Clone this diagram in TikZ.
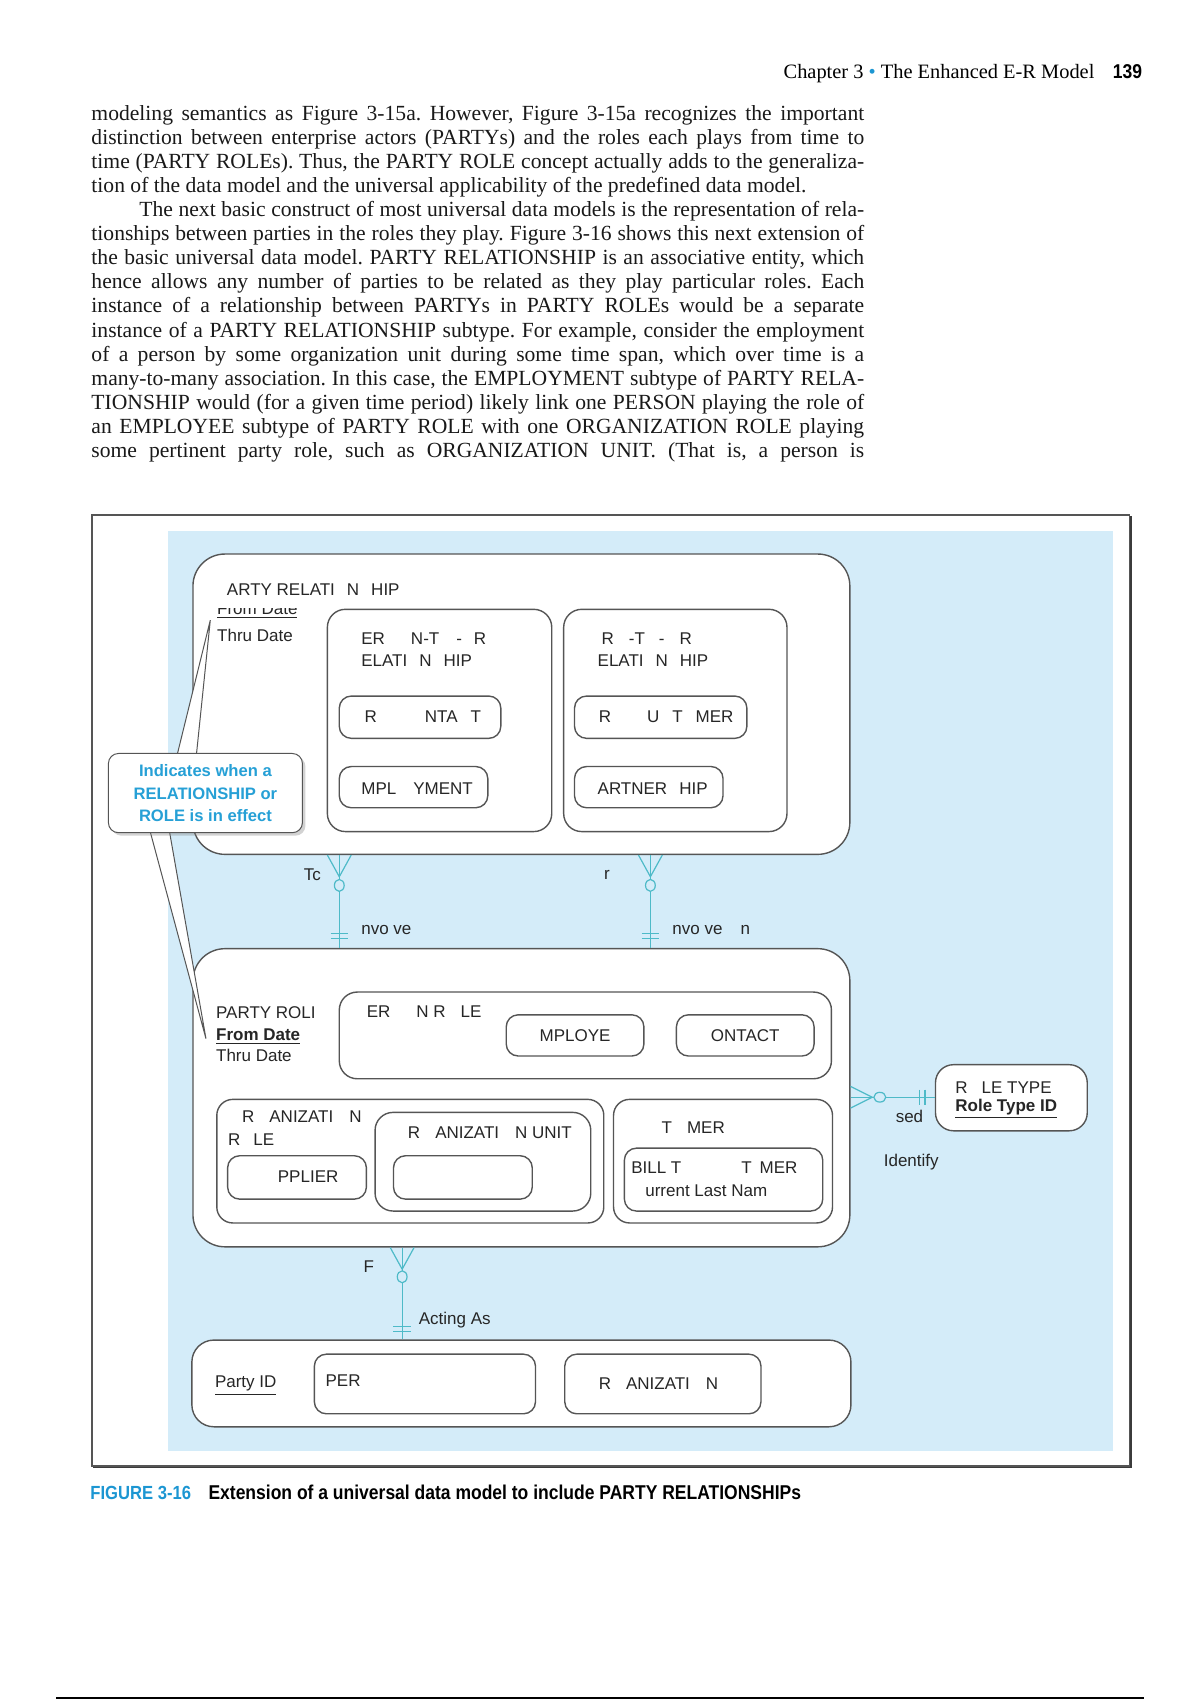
\documentclass[tikz,border=0pt]{standalone}
\usepackage{fontspec}
\setmainfont{Liberation Serif}
\newfontfamily\figfont{Liberation Sans}
\newfontfamily\capfont[FakeStretch=0.875]{Liberation Sans}
\usetikzlibrary{fit,shadows}
\definecolor{bgblue}{RGB}{212,236,249}
\definecolor{crowteal}{RGB}{78,186,200}
\definecolor{noteblue}{RGB}{38,160,214}
\definecolor{capblue}{RGB}{28,150,210}
\definecolor{linegray}{RGB}{85,85,85}
\newcommand{\bodyline}[1]{\makebox[386.4pt][s]{#1}}
\frenchspacing

\begin{document}
\begin{tikzpicture}[x=0.542pt,y=-0.5421pt,
  ent/.style={draw=linegray,fill=white,line width=.7pt,inner sep=0pt,rounded corners=16pt},
  sub/.style={ent,rounded corners=9pt},
  leaf/.style={ent,rounded corners=6pt},
  txt/.style={font=\figfont\fontsize{8.5}{10.8}\selectfont,text=black!85,anchor=west,inner sep=0pt,align=left},
  rel/.style={draw=crowteal,line width=.6pt},
  note/.style={draw=linegray,fill=white,line width=.5pt,rounded corners=5pt,align=center,
    drop shadow={opacity=.35,shadow xshift=1.5pt,shadow yshift=-1.5pt},
    font=\figfont\bfseries\fontsize{8.3}{11.1}\selectfont,text=noteblue}]
\useasboundingbox (0,0) rectangle (1107,1568);

% page head and running text
\node[anchor=base east,inner sep=0pt,font=\capfont\bfseries\fontsize{10}{12}\selectfont] (pgno) at (1054,72) {139};
\node[anchor=base east,inner sep=0pt,font=\fontsize{10.2}{12}\selectfont] (chap) at (1010,72) {Chapter 3 \textcolor{capblue}{\textbullet} The Enhanced E-R Model};
\node[anchor=base west,align=left,inner sep=0pt,text=black!90,font=\fontsize{10.8}{12.05}\selectfont] (body) at (84,422) {%
\bodyline{modeling semantics as Figure 3-15a. However, Figure 3-15a recognizes the important}\\
\bodyline{distinction between enterprise actors (PARTYs) and the roles each plays from time to}\\
\bodyline{time (PARTY ROLEs). Thus, the PARTY ROLE concept actually adds to the generaliza-}\\
tion of the data model and the universal applicability of the predefined data model.\\
\bodyline{\hspace*{24pt}The next basic construct of most universal data models is the representation of rela-}\\
\bodyline{tionships between parties in the roles they play. Figure 3-16 shows this next extension of}\\
\bodyline{the basic universal data model. PARTY RELATIONSHIP is an associative entity, which}\\
\bodyline{hence allows any number of parties to be related as they play particular roles. Each}\\
\bodyline{instance of a relationship between PARTYs in PARTY ROLEs would be a separate}\\
\bodyline{instance of a PARTY RELATIONSHIP subtype. For example, consider the employment}\\
\bodyline{of a person by some organization unit during some time span, which over time is a}\\
\bodyline{many-to-many association. In this case, the EMPLOYMENT subtype of PARTY RELA-}\\
\bodyline{TIONSHIP would (for a given time period) likely link one PERSON playing the role of}\\
\bodyline{an EMPLOYEE subtype of PARTY ROLE with one ORGANIZATION ROLE playing}\\
\bodyline{some pertinent party role, such as ORGANIZATION UNIT. (That is, a person is}};

% figure frame
\draw[linegray,line width=.9pt] (85,475) rectangle (1042,1352);
\draw[linegray!70!black,line width=.8pt] (1043.6,476) -- (1043.6,1353.6) -- (86,1353.6);
\fill[bgblue] (155,490) rectangle (1027,1338);

% entities
\node[ent,fit={(178,511) (784,788)}] (prel) {};
\node[sub,fit={(302,562) (509,767)}] (cpty) {};
\node[sub,fit={(520,562) (726,767)}] (ptnr) {};
\node[leaf,fit={(313,642) (462,681)}] (cont) {};
\node[leaf,fit={(313,707) (450,745)}] (empl) {};
\node[leaf,fit={(530,642) (689,681)}] (cust) {};
\node[leaf,fit={(530,707) (667,745)}] (part) {};
\node[ent,fit={(178,875) (784,1150)}] (prole) {};
\node[sub,fit={(313,915) (767,995)}] (perrole) {};
\node[leaf,fit={(467,936) (594,974)}] (emply) {};
\node[leaf,fit={(624,936) (751,974)}] (cntct) {};
\node[sub,rounded corners=8pt,fit={(200,1014) (557,1128)}] (orgrole) {};
\node[leaf,fit={(210,1066) (338,1106)}] (suppl) {};
\node[sub,fit={(346,1026) (545,1117)}] (orgunit) {};
\node[leaf,fit={(363,1066) (491,1106)}] (blank) {};
\node[sub,rounded corners=8pt,fit={(566,1014) (768,1128)}] (custrole) {};
\node[leaf,fit={(576,1059) (759,1117)}] (billto) {};
\node[ent,rounded corners=9pt,fit={(863,982) (1003,1043)}] (rtype) {};
\node[ent,rounded corners=11pt,fit={(177,1236) (785,1316)}] (party) {};
\node[leaf,fit={(290,1249) (494,1304)}] (person) {};
\node[leaf,fit={(521,1249) (702,1304)}] (org) {};

% relationships
\coordinate (x1) at (313,0);
\coordinate (x2) at (600,0);
\coordinate (x3) at (371,0);
\coordinate (y1) at (0,1012);
\foreach \c in {x1,x2}{
  \draw[rel] (prel.south -| \c) -- (prole.north -| \c);
  \begin{scope}[shift={(prel.south -| \c)}]
    \draw[rel] (-11,0) -- (0,20) -- (11,0);
    \draw[rel,fill=bgblue] (0,28) ellipse (4.5 and 5.5);
  \end{scope}
  \begin{scope}[shift={(prole.north -| \c)}]
    \draw[rel] (-8,-13) -- (8,-13) (-8,-8.5) -- (8,-8.5);
  \end{scope}
}
\draw[rel] (prole.south -| x3) -- (party.north -| x3);
\begin{scope}[shift={(prole.south -| x3)}]
  \draw[rel] (-11,0) -- (0,20) -- (11,0);
  \draw[rel,fill=bgblue] (0,27) ellipse (4.5 and 5.5);
\end{scope}
\begin{scope}[shift={(party.north -| x3)}]
  \draw[rel] (-8,-12) -- (8,-12) (-8,-7.5) -- (8,-7.5);
\end{scope}
\draw[rel] (prole.east |- y1) -- (rtype.west |- y1);
\begin{scope}[shift={(prole.east |- y1)}]
  \draw[rel] (0,-10) -- (20,0) -- (0,10);
  \draw[rel,fill=bgblue] (27,0) ellipse (5.5 and 4.5);
\end{scope}
\begin{scope}[shift={(rtype.west |- y1)}]
  \draw[rel] (-14,-7) -- (-14,7) (-9,-7) -- (-9,7);
\end{scope}

% entity texts
\node[txt] (prelname) at (209,544) {ARTY RELATI\hspace{6pt}N\hspace{6pt}HIP};
\begin{scope}
  \clip (185,561.5) rectangle (300,575);
  \node[txt,anchor=base west] (prelfrom) at (200,566.5) {\underline{From Date}};
\end{scope}
\node[txt] (prelthru) at (200,586) {Thru Date};
\node[txt] (cptyname) at (333,599) {ER\hspace{13pt}N-T\hspace{8.5pt}-\hspace{6pt}R\\ELATI\hspace{6pt}N\hspace{6pt}HIP};
\node[txt] (ptnrname) at (551,599) {\hspace{2pt}R\hspace{7.5pt}-T\hspace{7pt}-\hspace{7.5pt}R\\ELATI\hspace{6pt}N\hspace{6pt}HIP};
\node[txt] (conttxt) at (336,661) {R\hspace{24pt}NTA\hspace{6.5pt}T};
\node[txt] (empltxt) at (333,727) {MPL\hspace{8.5pt}YMENT};
\node[txt] (custtxt) at (552,661) {R\hspace{18pt}U\hspace{6.5pt}T\hspace{6.5pt}MER};
\node[txt] (parttxt) at (551,727) {ARTNER\hspace{6pt}HIP};

\node[txt] (prolename) at (199,954) {PARTY ROLI\\\textbf{\underline{From Date}}\\Thru Date};
\node[txt] (perroletxt) at (338,933) {ER\hspace{13pt}N R\hspace{7.5pt}LE};
\node[txt,anchor=center] (emplytxt) at (emply) {MPLOYE};
\node[txt,anchor=center] (cntcttxt) at (cntct) {ONTACT};
\node[txt] (orgroletxt) at (223,1030) {R\hspace{7.5pt}ANIZATI\hspace{8pt}N};
\node[txt] (orgroletxtb) at (210,1051) {R\hspace{6.5pt}LE};
\node[txt] (suppltxt) at (256,1085) {PPLIER};
\node[txt] (orgunittxt) at (376,1045) {R\hspace{7.5pt}ANIZATI\hspace{8pt}N UNIT};
\node[txt] (custroletxt) at (610,1040) {T\hspace{7.5pt}MER};
\node[txt] (billtotxt) at (582,1077) {BILL T\hspace{30pt}T\hspace{4pt}MER};
\node[txt] (billtotxtb) at (595,1098) {urrent Last Nam};
\node[txt] (rtypetxt) at (881,1003) {R\hspace{7pt}LE TYPE};
\node[txt] (rtypeid) at (881,1023) {\textbf{\underline{Role Type ID}}};
\node[txt] (partyid) at (198,1278) {\underline{Party ID}};
\node[txt] (persontxt) at (300,1273) {PER};
\node[txt] (orgtxt) at (552,1276) {R\hspace{7.5pt}ANIZATI\hspace{8pt}N};

% relationship labels
\node[txt] (la) at (280,807) {Tc};
\node[txt] (lb) at (557,807) {r};
\node[txt] (lc) at (333,858) {nvo ve};
\node[txt] (ld) at (620,858) {nvo ve\hspace{9pt}n};
\node[txt] (le) at (335,1168) {F};
\node[txt] (lf) at (386,1218) {Acting As};
\node[txt] (lg) at (826,1030) {sed};
\node[txt] (lh) at (815,1072) {Identify};

% callout
\coordinate (tipa) at (194,572);
\coordinate (tipb) at (190,958);
\filldraw[fill=white,draw=linegray,line width=.5pt] (163,698) -- (tipa) -- (181,698) -- cycle;
\filldraw[fill=white,draw=linegray,line width=.5pt] (138,765) -- (tipb) -- (156,765) -- cycle;
\node[note,minimum width=97pt,minimum height=39.6pt] (remark) at (189.5,731.5) {Indicates when a\\RELATIONSHIP or\\ROLE is in effect};

% caption and foot rule
\node[anchor=base west,inner sep=0pt,text=capblue,font=\capfont\bfseries\fontsize{9.5}{11}\selectfont] (fignum) at (83,1383) {FIGURE 3-16};
\node[anchor=base west,inner sep=0pt,font=\capfont\bfseries\fontsize{10}{11}\selectfont] (figcap) at (192,1383) {Extension of a universal data model to include PARTY RELATIONSHIPs};
\draw[line width=1.3pt] (52,1566) -- (1055,1566);
\end{tikzpicture}
\end{document}
